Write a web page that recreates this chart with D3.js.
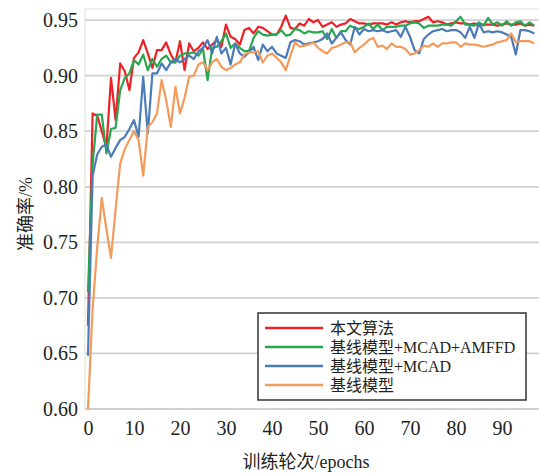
<html>
<head>
<meta charset="utf-8">
<title>准确率曲线</title>
<script src="https://cdn.jsdelivr.net/npm/d3@7"></script>
<style>
  body { margin: 0; background: #fff; }
  text { fill: #231f20; }
</style>
</head>
<body>
<svg width="539" height="473"></svg>
<script>
// 数据：每个 epoch 一个值，0..97
var redAcc = [0.675,0.866,0.864,0.850,0.835,0.898,0.860,0.911,0.904,0.887,
  0.916,0.921,0.932,0.920,0.907,0.923,0.923,0.930,0.919,0.912,
  0.931,0.905,0.929,0.922,0.925,0.930,0.924,0.928,0.932,0.926,
  0.946,0.935,0.933,0.928,0.941,0.943,0.938,0.944,0.943,0.940,
  0.937,0.937,0.944,0.954,0.943,0.942,0.947,0.945,0.951,0.948,
  0.950,0.944,0.946,0.948,0.944,0.946,0.947,0.951,0.949,0.947,
  0.947,0.946,0.947,0.947,0.947,0.946,0.948,0.946,0.948,0.949,
  0.948,0.949,0.949,0.951,0.953,0.948,0.949,0.948,0.946,0.947,
  0.948,0.947,0.947,0.946,0.947,0.945,0.946,0.946,0.946,0.945,
  0.946,0.947,0.946,0.946,0.947,0.945,0.946,0.945];
var greenAcc = [0.705,0.820,0.865,0.865,0.830,0.852,0.853,0.887,0.898,0.902,
  0.914,0.910,0.919,0.905,0.915,0.908,0.915,0.918,0.912,0.912,
  0.918,0.920,0.920,0.921,0.918,0.924,0.896,0.925,0.926,0.931,
  0.938,0.925,0.929,0.925,0.922,0.922,0.934,0.940,0.937,0.936,
  0.937,0.937,0.941,0.936,0.937,0.942,0.941,0.938,0.940,0.939,
  0.939,0.940,0.933,0.942,0.934,0.940,0.940,0.945,0.943,0.942,
  0.944,0.947,0.942,0.946,0.941,0.944,0.944,0.944,0.945,0.945,
  0.947,0.948,0.947,0.943,0.945,0.945,0.945,0.946,0.946,0.945,
  0.949,0.953,0.946,0.946,0.945,0.948,0.945,0.952,0.946,0.948,
  0.945,0.949,0.945,0.948,0.949,0.945,0.948,0.945];
var blueAcc = [0.648,0.810,0.829,0.836,0.838,0.827,0.835,0.842,0.845,0.852,
  0.860,0.845,0.899,0.848,0.902,0.902,0.911,0.905,0.912,0.915,
  0.912,0.915,0.918,0.915,0.922,0.925,0.932,0.920,0.935,0.920,
  0.925,0.910,0.929,0.920,0.917,0.921,0.926,0.914,0.928,0.922,
  0.926,0.920,0.918,0.916,0.930,0.932,0.931,0.928,0.929,0.930,
  0.931,0.933,0.938,0.929,0.934,0.939,0.932,0.928,0.944,0.937,
  0.942,0.940,0.941,0.940,0.941,0.939,0.940,0.941,0.935,0.944,
  0.935,0.923,0.920,0.933,0.937,0.940,0.941,0.942,0.940,0.941,
  0.941,0.939,0.934,0.944,0.934,0.947,0.939,0.940,0.939,0.940,
  0.939,0.937,0.935,0.919,0.941,0.941,0.940,0.938];
var orangeAcc = [0.600,0.690,0.745,0.790,0.762,0.736,0.780,0.821,0.834,0.842,
  0.850,0.842,0.810,0.854,0.858,0.866,0.896,0.878,0.854,0.890,
  0.866,0.880,0.899,0.900,0.910,0.912,0.905,0.912,0.915,0.908,
  0.905,0.907,0.910,0.912,0.919,0.921,0.921,0.922,0.912,0.918,
  0.920,0.916,0.912,0.905,0.918,0.930,0.926,0.927,0.928,0.930,
  0.925,0.922,0.920,0.925,0.926,0.928,0.930,0.930,0.921,0.925,
  0.928,0.932,0.934,0.926,0.927,0.924,0.929,0.926,0.926,0.924,
  0.919,0.920,0.923,0.927,0.926,0.929,0.926,0.929,0.929,0.930,
  0.930,0.926,0.929,0.928,0.928,0.927,0.926,0.927,0.928,0.930,
  0.931,0.932,0.938,0.930,0.931,0.931,0.931,0.929];

var seriesNames = ["本文算法","基线模型+MCAD+AMFFD","基线模型+MCAD","基线模型"];
var seriesColors = ["#ec2227","#27a74f","#4b7cb9","#f49a5b"];
var xTicks = [0,10,20,30,40,50,60,70,80,90];
var yTicks = [0.60,0.65,0.70,0.75,0.80,0.85,0.90,0.95];

var series = [redAcc, greenAcc, blueAcc, orangeAcc];

var svg = d3.select("svg");
var plot = {left: 85, right: 541, top: 9, bottom: 409};

var x = d3.scaleLinear().domain([0, 98]).range([88, 88 + 98*4.6]);
var y = d3.scaleLinear().domain([0.60, 0.96]).range([409, 9]);

// 绘图区边框（很淡）
svg.append("rect")
   .attr("x", plot.left).attr("y", plot.top)
   .attr("width", plot.right - plot.left).attr("height", plot.bottom - plot.top)
   .attr("fill", "none").attr("stroke", "#ecebe3").attr("stroke-width", 1.5);

// 网格线
svg.append("g")
   .selectAll("line")
   .data(yTicks)
   .enter().append("line")
   .attr("x1", plot.left).attr("x2", plot.right)
   .attr("y1", d => y(d)).attr("y2", d => y(d))
   .attr("stroke", "#d0d0d0").attr("stroke-width", 1.8);

// y 轴
var yAxis = svg.append("g")
   .attr("transform", `translate(${plot.left},0)`)
   .call(d3.axisLeft(y).tickValues(yTicks).tickFormat(d3.format(".2f")).tickSize(0).tickPadding(7));
yAxis.select(".domain").remove();
yAxis.selectAll("text")
   .style("font-family", "'Liberation Serif', serif")
   .style("font-size", "20px")
   .attr("fill", "#231f20");

// x 轴
var xAxis = svg.append("g")
   .attr("transform", `translate(0,${plot.bottom})`)
   .call(d3.axisBottom(x).tickValues(xTicks).tickSize(0).tickPadding(12));
xAxis.select(".domain").remove();
xAxis.selectAll("text")
   .style("font-family", "'Liberation Serif', serif")
   .style("font-size", "20px")
   .attr("fill", "#231f20");

// 曲线
var line = d3.line()
   .x((d, i) => x(i))
   .y(d => y(d));

svg.append("g")
   .selectAll("path")
   .data(series)
   .enter().append("path")
   .attr("d", line)
   .attr("fill", "none")
   .attr("stroke", (d, i) => seriesColors[i])
   .attr("stroke-width", 2.2)
   .attr("stroke-linejoin", "round");

// 轴标题
svg.append("text")
   .text("训练轮次/epochs")
   .attr("x", 306).attr("y", 468)
   .attr("text-anchor", "middle")
   .style("font-family", "'Liberation Serif', 'Noto Sans CJK SC', serif")
   .style("font-size", "18px");

svg.append("text")
   .text("准确率/%")
   .attr("transform", "translate(32,214) rotate(-90)")
   .attr("text-anchor", "middle")
   .style("font-family", "'Liberation Serif', 'Noto Sans CJK SC', serif")
   .style("font-size", "18px");

// 图例
var legend = svg.append("g");
legend.append("rect")
   .attr("x", 258).attr("y", 313)
   .attr("width", 268).attr("height", 87)
   .attr("fill", "#fff").attr("stroke", "#333").attr("stroke-width", 1.5);

var items = legend.selectAll("g.item")
   .data(seriesNames)
   .enter().append("g")
   .attr("class", "item")
   .attr("transform", (d, i) => `translate(0,${328 + i*19})`);
items.append("line")
   .attr("x1", 265).attr("x2", 323)
   .attr("stroke", (d, i) => seriesColors[i])
   .attr("stroke-width", 2.5);
items.append("text")
   .text(d => d)
   .attr("x", 330).attr("dy", "0.35em")
   .style("font-family", "'Liberation Serif', 'Noto Sans CJK SC', serif")
   .style("font-size", "16px");
</script>
</body>
</html>
